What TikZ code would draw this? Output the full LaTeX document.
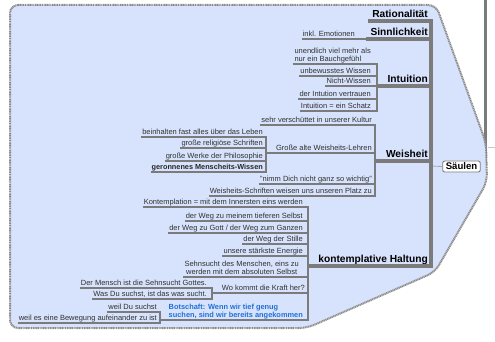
\documentclass[tikz,border=0pt]{standalone}
\usepackage{fontspec}
\setmainfont{Liberation Sans}
\definecolor{fillblue}{HTML}{D7E3FC}
\definecolor{bordergray}{HTML}{8C8C8C}
\definecolor{linegray}{HTML}{7B7B7B}
\definecolor{subtext}{HTML}{303030}
\definecolor{msgblue}{HTML}{1F6FD8}
\newcommand\subf{\fontsize{7.5}{8}\selectfont}
\newcommand\mainf{\fontsize{10.2}{12}\selectfont\bfseries}
\tikzset{
  subnode/.style={font=\subf, text=subtext, inner xsep=1pt, inner ysep=0.8pt, text depth=1.7pt, anchor=south east},
  mainnode/.style={font=\mainf, text=black, inner xsep=1pt, inner ysep=1.2pt, text depth=2pt, anchor=south east},
  subline/.style={draw=linegray, line width=2.4pt},
  mainline/.style={draw=linegray, line width=3.4pt},
}
\begin{document}
\begin{tikzpicture}[x=1pt,y=-1pt]
\useasboundingbox (0,0) rectangle (495,342);
% outer branch line
\draw[linegray, line width=3pt] (485,0) coordinate (outTop) -- (485,167) coordinate (outBot);
\draw[black!22, line width=0.8pt] (488,147) coordinate (lnA) -- (495,147) coordinate (lnB);
% boundary
\draw[fill=fillblue, draw=bordergray, line width=2pt, dash pattern=on 1.1pt off 0.6pt, rounded corners=8pt]
  (10,5) -- (436,5) -- (486,143) -- (487,182) -- (435,272) -- (307,328) -- (10,328) -- cycle;

% junctions
\coordinate (sJoin) at (431,166);
\coordinate (ratJ) at (368,21);
\coordinate (sinJ) at (366,39);
\coordinate (intJ) at (377,86);
\coordinate (weiJ) at (375,161);
\coordinate (konJ) at (308,266);
\coordinate (grJ) at (266,153);
\coordinate (woJ) at (212,293);
\coordinate (boJ) at (160,320);

% main topics
\node[mainnode] (rat) at (429,21) {Rationalität};
\node[mainnode] (sin) at (429,39) {Sinnlichkeit};
\node[mainnode] (int) at (429,86) {Intuition};
\node[mainnode] (wei) at (429,161) {Weisheit};
\node[mainnode] (kon) at (429,266) {kontemplative Haltung};

% Sinnlichkeit child
\node[subnode] (s1) at (356,39) {inkl. Emotionen};

% Intuition children
\node[subnode, align=left] (i1) at (372,64) {unendlich viel mehr als\\nur ein Bauchgefühl};
\node[subnode] (i2) at (372,76) {unbewusstes Wissen};
\node[subnode] (i3) at (372,86) {Nicht-Wissen};
\node[subnode] (i4) at (372,99) {der Intution vertrauen};
\node[subnode] (i5) at (372,111) {Intuition = ein Schatz};

% Weisheit children
\node[subnode] (w1) at (373,125) {sehr verschüttet in unserer Kultur};
\node[subnode] (w2) at (373,153) {Große alte Weisheits-Lehren};
\node[subnode] (w3) at (373,184) {"nimm Dich nicht ganz so wichtig"};
\node[subnode] (w4) at (373,196) {Weisheits-Schriften weisen uns unseren Platz zu};
\node[subnode] (g1) at (264,137) {beinhalten fast alles über das Leben};
\node[subnode] (g2) at (264,148) {große religiöse Schriften};
\node[subnode] (g3) at (264,161) {große Werke der Philosophie};
\node[subnode, font=\fontsize{7.3}{8}\selectfont\bfseries, text=black!85] (g4) at (264,172) {geronnenes Menscheits-Wissen};

% kontemplative Haltung children
\node[subnode] (k1) at (304,207) {Kontemplation = mit dem Innersten eins werden};
\node[subnode] (k2) at (304,221) {der Weg zu meinem tieferen Selbst};
\node[subnode] (k3) at (304,233) {der Weg zu Gott / der Weg zum Ganzen};
\node[subnode] (k4) at (304,244) {der Weg der Stille};
\node[subnode] (k5) at (304,256) {unsere stärkste Energie};
\node[subnode, align=center] (k6) at (300,277) {Sehnsucht des Menschen, eins zu\\werden mit dem absoluten Selbst};
\node[subnode] (k7) at (306,293) {Wo kommt die Kraft her?};
\node[subnode, align=left, font=\fontsize{7.4}{8}\selectfont\bfseries, text=msgblue] (k8) at (304,320) {Botschaft: Wenn wir tief genug\\suchen, sind wir bereits angekommen};
\node[subnode] (m1) at (208,288) {Der Mensch ist die Sehnsucht Gottes.};
\node[subnode] (m2) at (208,299) {Was Du suchst, ist das was sucht.};
\node[subnode] (b1) at (158,312) {weil Du suchst};
\node[subnode] (b2) at (158,323) {weil es eine Bewegung aufeinander zu ist};

% Säulen
\node[draw=linegray, line width=0.9pt, fill=white, rounded corners=2pt, font=\fontsize{9.6}{11}\selectfont\bfseries, inner xsep=3pt, inner ysep=2pt] (saeulen) at (461.5,166.5) {Säulen};
\draw[black!35, line width=0.8pt] (saeulen.west) -- (sJoin);

% sub connectors
\foreach \c/\j in {s1/sinJ, i1/intJ, i2/intJ, i3/intJ, i4/intJ, i5/intJ,
                   w1/weiJ, w3/weiJ, w4/weiJ,
                   g1/grJ, g2/grJ, g3/grJ, g4/grJ,
                   k1/konJ, k2/konJ, k3/konJ, k4/konJ, k5/konJ, k6/konJ,
                   m1/woJ, m2/woJ, b1/boJ, b2/boJ}
  \draw[subline] (\c.south west) -- (\c.south -| \j) -- (\j);
\draw[subline] (grJ) -- (grJ -| weiJ) -- (weiJ);
\draw[subline] (woJ) -- (woJ -| konJ) -- (konJ);
\draw[subline] (boJ) -- (boJ -| konJ) -- (konJ);

% main connectors
\foreach \j in {ratJ, sinJ, intJ, weiJ, konJ}
  \draw[mainline] (\j) -- (\j -| sJoin) -- (sJoin);
\fill[linegray] (sJoin) circle (1.6pt);
\end{tikzpicture}
\end{document}
